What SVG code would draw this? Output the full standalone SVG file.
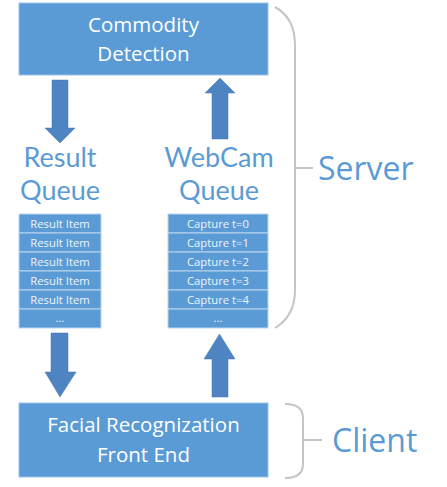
<svg xmlns="http://www.w3.org/2000/svg" width="447" height="487" viewBox="0 0 447 487">
<style>
.box{fill:#5b9bd5;stroke:#9cc2e6;stroke-width:1}
.bt{font-family:"Open Sans","DejaVu Sans",sans-serif;font-size:20.5px;fill:#ffffff;text-anchor:middle}
.ql{font-family:Lato,"Open Sans",sans-serif;font-size:27px;fill:#5b9bd5;text-anchor:middle}
.row{fill:#5b9bd5;stroke:#bcd5ee;stroke-width:1}
.it{font-family:"Open Sans","DejaVu Sans",sans-serif;font-size:11.3px;fill:#eef4fb;text-anchor:middle}
.arr{fill:#4e84c2;stroke:#4677b0;stroke-width:0.5}
.br{fill:none;stroke:#c4c4c4;stroke-width:2}
.side{font-family:"Open Sans","DejaVu Sans",sans-serif;font-size:32px;fill:#5b9bd5}
</style>
<rect width="447" height="487" fill="#ffffff"/>
<g id="commodity-detection">
<rect class="box" x="19" y="3" width="249" height="72"/>
<text class="bt" x="143.5" y="32">Commodity</text>
<text class="bt" x="143.5" y="61">Detection</text>
</g>
<g id="result-queue">
<text class="ql" x="60" y="166.5">Result</text>
<text class="ql" x="60" y="199.5">Queue</text>
<rect class="row" x="19" y="214" width="82" height="19"/>
<rect class="row" x="19" y="233" width="82" height="19"/>
<rect class="row" x="19" y="252" width="82" height="19"/>
<rect class="row" x="19" y="271" width="82" height="19"/>
<rect class="row" x="19" y="290" width="82" height="19"/>
<rect class="row" x="19" y="309" width="82" height="19"/>
<text class="it" x="60" y="228">Result Item</text>
<text class="it" x="60" y="247">Result Item</text>
<text class="it" x="60" y="266">Result Item</text>
<text class="it" x="60" y="285">Result Item</text>
<text class="it" x="60" y="304">Result Item</text>
<text class="it" x="60" y="322">...</text>
</g>
<g id="webcam-queue">
<text class="ql" x="219" y="166.5">WebCam</text>
<text class="ql" x="219" y="199.5">Queue</text>
<rect class="row" x="168" y="214" width="100" height="19"/>
<rect class="row" x="168" y="233" width="100" height="19"/>
<rect class="row" x="168" y="252" width="100" height="19"/>
<rect class="row" x="168" y="271" width="100" height="19"/>
<rect class="row" x="168" y="290" width="100" height="19"/>
<rect class="row" x="168" y="309" width="100" height="19"/>
<text class="it" x="218" y="228">Capture t=0</text>
<text class="it" x="218" y="247">Capture t=1</text>
<text class="it" x="218" y="266">Capture t=2</text>
<text class="it" x="218" y="285">Capture t=3</text>
<text class="it" x="218" y="304">Capture t=4</text>
<text class="it" x="218" y="322">...</text>
</g>
<g id="facial-recognization">
<rect class="box" x="19" y="403" width="249" height="74"/>
<text class="bt" x="143.5" y="432">Facial Recognization</text>
<text class="bt" x="143.5" y="462">Front End</text>
</g>
<g id="server">
<path class="br" d="M275 7 Q295 18 295 45 L295 290 Q295 316 275 328"/>
<line class="br" x1="295" y1="168" x2="313" y2="168"/>
<text class="side" x="318" y="180">Server</text>
</g>
<g id="client">
<path class="br" d="M285 404 Q303 404 303 418 L303 464 Q303 478 285 478"/>
<line class="br" x1="303" y1="440" x2="322" y2="440"/>
<text class="side" x="332" y="452">Client</text>
</g>
<g id="connectors">
<polygon class="arr" points="52,80 68,80 68,128 75,128 60,143 45,128 52,128"/>
<polygon class="arr" points="220,78 235,93 228,93 228,139 212,139 212,93 205,93"/>
<polygon class="arr" points="51,333 68,333 68,372 76,372 60,397 45,372 51,372"/>
<polygon class="arr" points="219.5,334 235,359 228,359 228,397 212,397 212,359 204,359"/>
</g>
</svg>
